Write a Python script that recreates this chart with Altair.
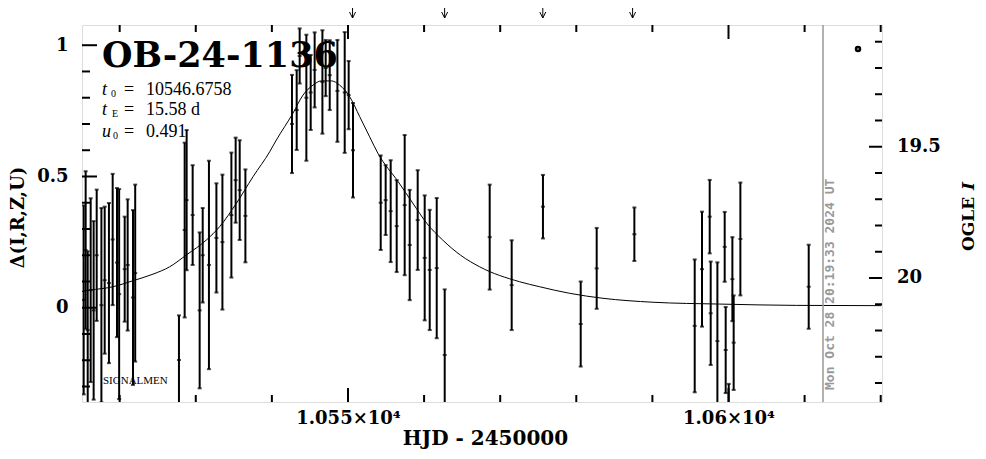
import altair as alt
import pandas as pd

# ---------------- data ----------------
hjd = [10515.27, 10515.53, 10515.80, 10516.19, 10516.58, 10516.98, 10517.60, 10518.03,
       10518.59, 10519.08, 10519.65, 10519.93, 10520.66, 10521.05, 10521.75, 10522.04,
       10527.79, 10528.54, 10528.80, 10529.59, 10530.51, 10530.91, 10531.73, 10532.71,
       10533.50, 10534.68, 10535.24, 10535.77, 10536.52,
       10542.64, 10543.26, 10543.65, 10544.53, 10545.10, 10545.62, 10546.64, 10547.07,
       10547.60, 10548.61, 10549.57, 10550.09, 10550.66,
       10554.30, 10554.95, 10555.61, 10556.40, 10557.45, 10558.11, 10559.16, 10560.08,
       10560.74, 10561.66, 10562.71,
       10568.62, 10571.51, 10575.62, 10580.58, 10582.68, 10587.63, 10595.56, 10596.52,
       10597.53, 10597.66, 10598.54, 10599.50, 10599.63, 10600.03, 10600.51, 10600.68,
       10601.56, 10610.54]
delta = [0.03, 0.22, -0.085, 0.067, -0.01, 0.20, 0.01, 0.105,
         0.094, 0.26, 0.172, 0.052, 0.147, 0.163, 0.039, 0.132,
         -0.199, 0.296, 0.41, 0.353, -0.01, 0.20, 0.163, 0.266,
         0.25, 0.353, 0.486, 0.448, 0.35,
         0.70, 0.753, 0.959, 0.80, 0.82, 0.906, 0.86, 0.913,
         0.886, 0.826, 0.82, 0.81, 0.60,
         0.40, 0.41, 0.368, 0.311, 0.391, 0.239, 0.334, 0.19,
         0.144, 0.151, -0.18,
         0.269, 0.086, 0.385, -0.062, 0.15, 0.28, -0.069, 0.147,
         0.347, -0.021, -0.127, 0.232, -0.161, -0.45, 0.109, -0.133,
         0.262, 0.08]
err = [0.36, 0.30, 0.30, 0.35, 0.34, 0.25, 0.37, 0.28,
       0.305, 0.25, 0.284, 0.40, 0.20, 0.25, 0.333, 0.337,
       0.17, 0.333, 0.267, 0.19, 0.297, 0.18, 0.397, 0.208,
       0.257, 0.238, 0.162, 0.19, 0.177,
       0.187, 0.152, 0.105, 0.24, 0.143, 0.143, 0.197, 0.107,
       0.133, 0.194, 0.23, 0.13, 0.18,
       0.18, 0.133, 0.194, 0.175, 0.267, 0.21, 0.19, 0.238,
       0.229, 0.267, 0.25,
       0.20, 0.171, 0.121, 0.162, 0.154, 0.102, 0.253, 0.219,
       0.14, 0.197, 0.30, 0.133, 0.164, 0.16, 0.16, 0.18,
       0.215, 0.16]

model_hjd = [10515.0, 10516.06, 10519.12, 10521.75, 10524.38, 10526.57, 10528.76, 10531.39,
             10533.14, 10535.34, 10537.52, 10539.71, 10540.59, 10542.77, 10544.09, 10545.40,
             10546.50, 10547.82, 10548.91, 10550.22, 10551.54, 10552.85, 10553.94, 10556.6,
             10558.50, 10560.4, 10562.44, 10564.8, 10567.30, 10572.56, 10575.19, 10579.13,
             10583.51, 10590.08, 10598.84, 10608.92, 10620.1]
model_delta = [0.062, 0.067, 0.080, 0.103, 0.128, 0.156, 0.201, 0.258,
               0.309, 0.398, 0.499, 0.594, 0.639, 0.741, 0.810, 0.848,
               0.864, 0.864, 0.848, 0.804, 0.728, 0.651, 0.588, 0.48,
               0.399, 0.32, 0.258, 0.20, 0.156, 0.099, 0.080, 0.055,
               0.036, 0.021, 0.014, 0.009, 0.008]

arrow_hjd = [10550.6, 10562.7, 10575.6, 10587.4]
now_hjd = [10612.42]
now_label = "Mon Oct 28 20:19:33 2024 UT"
event_name = "OB-24-1136"
param_symbols = ["t", "t", "u"]
param_subs = ["0", "E", "0"]
param_values = ["10546.6758", "15.58 d", "0.491"]
survey_label = "SIGNALMEN"

hjd_major = [10550, 10600]
hjd_major_labels = ["1.055×10⁴", "1.06×10⁴"]
hjd_minor = [10520, 10530, 10540, 10560, 10570, 10580, 10590, 10610, 10620]
delta_major = [0.0, 0.5, 1.0]
delta_major_labels = ["0", "0.5", "1"]
delta_minor = [-0.3, -0.2, -0.1, 0.1, 0.2, 0.3, 0.4, 0.6, 0.7, 0.8, 0.9]
ogle_major = [19.5, 20.0]
ogle_major_labels = ["19.5", "20"]
ogle_minor = [19.1, 19.2, 19.3, 19.4, 19.6, 19.7, 19.8, 19.9, 20.1, 20.2, 20.3, 20.4]
ogle_offset = 20.1133   # OGLE I = ogle_offset - delta

# ---------------- layout ----------------
W, H = 800, 377
xdom = [10515.05, 10620.17]
ydom = [-0.359, 1.077]
SERIF = "DejaVu Serif"
LSERIF = "Liberation Serif"


def label_expr(values, labels):
    s = "''"
    for v, l in zip(reversed(values), reversed(labels)):
        s = f"(abs(datum.value - {v}) < 1e-6 ? '{l}' : {s})"
    return s


xaxis = alt.Axis(values=hjd_major, labelExpr=label_expr(hjd_major, hjd_major_labels),
                 ticks=False, tickSize=0, domain=False, grid=False,
                 labelFont=SERIF, labelFontSize=18, labelFontWeight="bold", labelColor="black",
                 labelPadding=7, labelFlush=False, labelOverlap=False,
                 title="HJD - 2450000", titleFont=SERIF, titleFontSize=20, titleFontWeight="bold",
                 titleColor="black", titleX=W / 2 + 3, titleY=36, titleAlign="center",
                 titleBaseline="middle", titleAnchor="middle")
yaxis = alt.Axis(values=delta_major, labelExpr=label_expr(delta_major, delta_major_labels),
                 ticks=False, tickSize=0, domain=False, grid=False,
                 labelFont=SERIF, labelFontSize=18, labelFontWeight="bold", labelColor="black",
                 labelPadding=14, labelFlush=False, labelOverlap=False,
                 title="Δ(I,R,Z,U)", titleFont=SERIF, titleFontSize=18, titleFontWeight="bold",
                 titleColor="black", titleX=-64, titleY=192, titleAngle=270, titleAlign="center",
                 titleBaseline="middle")


def X(field):
    return alt.X(field, scale=alt.Scale(domain=xdom, nice=False, zero=False), axis=xaxis)


def Y(field):
    return alt.Y(field, scale=alt.Scale(domain=ydom, nice=False, zero=False), axis=yaxis)


obs = pd.DataFrame({"hjd": hjd, "delta": delta, "err": err})
base_obs = alt.Chart(obs).transform_calculate(
    lo="datum.delta - datum.err", hi="datum.delta + datum.err")

bars = base_obs.mark_rule(color="black", strokeWidth=2, clip=True).encode(
    x=X("hjd:Q"), y=Y("lo:Q"), y2="hi:Q")
caps = base_obs.transform_fold(["lo", "hi"], as_=["end", "val"]).mark_tick(
    orient="horizontal", size=4, thickness=2, color="black", clip=True).encode(
    x=X("hjd:Q"), y=Y("val:Q"))
centers = base_obs.mark_tick(orient="horizontal", size=4, thickness=2, color="black",
                             clip=True).encode(x=X("hjd:Q"), y=Y("delta:Q"))

model = alt.Chart(pd.DataFrame({"hjd": model_hjd, "delta": model_delta})).mark_line(
    color="black", strokeWidth=1, interpolate="monotone", clip=True).encode(
    x=X("hjd:Q"), y=Y("delta:Q"))


def hticks(values, x0, x1):
    return alt.Chart(pd.DataFrame({"v": values})).mark_rule(color="black", strokeWidth=2).encode(
        y=Y("v:Q"), x=alt.value(x0), x2=alt.value(x1))


def ogle_ticks(values, x0, x1):
    return alt.Chart(pd.DataFrame({"I": values})).transform_calculate(
        d=f"{ogle_offset} - datum.I").mark_rule(color="black", strokeWidth=2).encode(
        y=Y("d:Q"), x=alt.value(x0), x2=alt.value(x1))


def vticks(values, y0, y1):
    return alt.Chart(pd.DataFrame({"v": values})).mark_rule(color="black", strokeWidth=2).encode(
        x=X("v:Q"), y=alt.value(y0), y2=alt.value(y1))


ticks = [
    hticks(delta_minor, 0, 8), hticks(delta_major, 0, 15),
    ogle_ticks(ogle_minor, W - 7, W), ogle_ticks(ogle_major, W - 13, W),
    vticks(hjd_minor, H - 7, H), vticks(hjd_major, H - 14, H),
    vticks(hjd_minor, 0, 7), vticks(hjd_major, 0, 14),
]

ogle_labels = alt.Chart(pd.DataFrame({"I": ogle_major, "label": ogle_major_labels})).transform_calculate(
    d=f"{ogle_offset} - datum.I").mark_text(
    font=SERIF, fontSize=18, fontWeight="bold", align="left", baseline="middle", color="black").encode(
    y=Y("d:Q"), x=alt.value(W + 15), text="label:N")

ogle_title1 = alt.Chart(pd.DataFrame({"t": ["OGLE"]})).mark_text(
    font=SERIF, fontSize=17, fontWeight="bold", angle=270, align="left", baseline="middle",
    color="black").encode(x=alt.value(887), y=alt.value(226), text="t:N")
ogle_title2 = alt.Chart(pd.DataFrame({"t": ["I"]})).mark_text(
    font=SERIF, fontSize=17, fontWeight="bold", fontStyle="italic", angle=270, align="left",
    baseline="middle", color="black").encode(x=alt.value(887), y=alt.value(165), text="t:N")

now_df = pd.DataFrame({"hjd": now_hjd})
now_rule = alt.Chart(now_df).mark_rule(color="#999999", strokeWidth=1.5).encode(x=X("hjd:Q"))
now_text = alt.Chart(pd.DataFrame({"t": [now_label]})).mark_text(
    font="DejaVu Sans Mono", fontSize=13, fontWeight="bold", color="#999999", angle=270,
    align="left", baseline="middle").encode(x=alt.value(748), y=alt.value(365), text="t:N")

arrow_df = pd.DataFrame({"hjd": arrow_hjd})
arrow_shafts = alt.Chart(arrow_df).mark_rule(color="black", strokeWidth=1).encode(
    x=X("hjd:Q"), y=alt.value(-17), y2=alt.value(-7))
arrow_heads = alt.Chart(arrow_df).mark_point(
    shape="M-1,-2L0,0L1,-2", filled=False, size=36, color="black", strokeWidth=1, opacity=1).encode(
    x=X("hjd:Q"), y=alt.value(-7))

title = alt.Chart(pd.DataFrame({"t": [event_name]})).mark_text(
    font=SERIF, fontSize=35, fontWeight="bold", align="left", baseline="alphabetic",
    color="black").encode(x=alt.value(20), y=alt.value(42), text="t:N")

param_layers = []
line_y = [70, 90, 112]
sub_x = [29, 30, 31]
for i in range(3):
    param_layers.append(alt.Chart(pd.DataFrame({"t": [param_symbols[i]]})).mark_text(
        font=LSERIF, fontSize=18, fontStyle="italic", align="left", baseline="alphabetic",
        color="black").encode(x=alt.value(20), y=alt.value(line_y[i]), text="t:N"))
    param_layers.append(alt.Chart(pd.DataFrame({"t": [param_subs[i]]})).mark_text(
        font=LSERIF, fontSize=10, align="left", baseline="alphabetic",
        color="black").encode(x=alt.value(sub_x[i]), y=alt.value(line_y[i] + 2), text="t:N"))
    param_layers.append(alt.Chart(pd.DataFrame({"t": ["="]})).mark_text(
        font=LSERIF, fontSize=18, align="left", baseline="alphabetic",
        color="black").encode(x=alt.value(42), y=alt.value(line_y[i]), text="t:N"))
    param_layers.append(alt.Chart(pd.DataFrame({"t": [param_values[i]]})).mark_text(
        font=LSERIF, fontSize=18, align="left", baseline="alphabetic",
        color="black").encode(x=alt.value(64), y=alt.value(line_y[i]), text="t:N"))

survey = alt.Chart(pd.DataFrame({"t": [survey_label]})).mark_text(
    font=LSERIF, fontSize=11, align="left", baseline="alphabetic", color="black").encode(
    x=alt.value(21), y=alt.value(359), text="t:N")

marker = alt.Chart(pd.DataFrame({"t": ["o"]})).mark_point(
    shape="circle", filled=False, size=16, strokeWidth=2.5, color="black", opacity=1).encode(
    x=alt.value(776), y=alt.value(24))

chart = alt.layer(
    bars, caps, centers, model, *ticks, ogle_labels, ogle_title1, ogle_title2,
    now_rule, now_text, arrow_shafts, arrow_heads, title, *param_layers, survey, marker
).properties(
    width=W, height=H,
    padding={"left": 74, "top": 17, "right": 96, "bottom": 49},
    autosize=alt.AutoSizeParams(type="none"),
).configure_view(stroke="black", strokeWidth=2.5).configure(background="white")

chart.save("out.html", embed_options={"renderer": "svg", "actions": False})
